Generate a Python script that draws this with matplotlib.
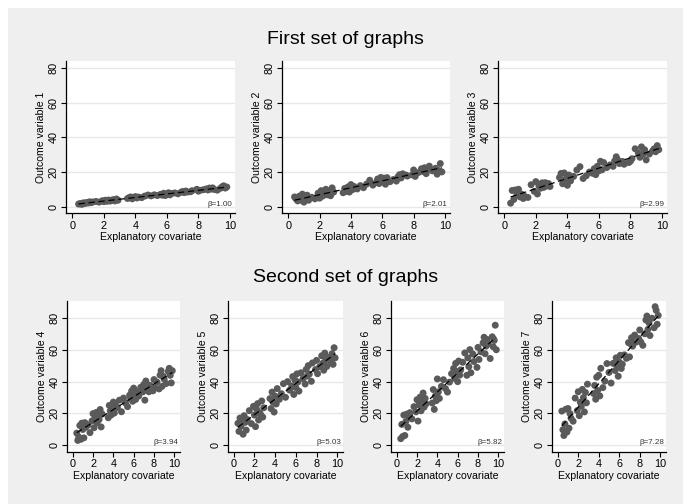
import numpy as np
import matplotlib.pyplot as plt
from matplotlib.patches import Rectangle

plt.rcParams["font.family"] = ["Liberation Sans", "DejaVu Sans"]

# shared explanatory covariate
x = [0.4, 0.5, 0.6, 0.7, 0.8, 0.9, 1.0, 1.1, 1.2, 1.3, 1.5, 1.7, 1.9, 2.0, 2.1, 2.2,
     2.3, 2.4, 2.5, 2.6, 2.7, 2.8, 2.9, 3.5, 3.6, 3.7, 3.8, 3.9, 4.0, 4.1, 4.2, 4.4,
     4.6, 4.8, 5.0, 5.2, 5.4, 5.6, 5.7, 5.8, 5.9, 6.0, 6.1, 6.2, 6.3, 6.5, 6.7, 6.9,
     7.0, 7.1, 7.2, 7.3, 7.5, 7.6, 7.9, 8.0, 8.1, 8.3, 8.5, 8.6, 8.7, 8.8, 8.9, 9.0,
     9.2, 9.4, 9.5, 9.6, 9.7, 9.8]

y1 = [1.7, 2.0, 1.5, 2.4, 2.0, 2.6, 2.3, 3.0, 2.5, 2.9, 3.2, 2.8, 3.6, 3.1, 3.9, 3.3,
      4.0, 3.4, 3.9, 4.2, 3.5, 4.6, 3.9, 4.9, 5.4, 5.8, 4.7, 5.5, 6.0, 5.2, 5.7, 5.4,
      6.3, 6.9, 6.4, 7.0, 6.6, 7.3, 6.8, 7.9, 6.6, 7.4, 8.2, 7.0, 7.8, 8.1, 7.6, 8.5,
      8.9, 8.3, 9.2, 8.6, 8.8, 9.4, 10.2, 9.1, 9.6, 9.9, 10.4, 9.8, 10.9, 10.3, 11.0, 10.1,
      9.7, 10.8, 11.6, 12.2, 10.9, 11.5]

y2 = [5.8, 4.6, 3.5, 6.2, 4.0, 7.4, 2.8, 5.2, 6.8, 3.9, 5.6, 4.7, 7.9, 5.1, 9.4, 6.3,
      8.5, 10.2, 7.0, 9.1, 6.5, 11.0, 8.6, 8.2, 10.7, 9.0, 11.5, 8.6, 12.9, 10.0, 11.8, 10.4,
      12.3, 11.1, 13.2, 15.4, 12.6, 14.0, 16.1, 13.5, 17.0, 15.2, 16.6, 13.1, 16.9, 14.6, 15.8, 14.9,
      17.4, 18.6, 16.7, 19.1, 18.4, 17.8, 18.5, 21.3, 17.6, 19.8, 22.0, 20.4, 22.6, 19.2, 21.5, 23.5,
      20.8, 22.3, 18.9, 21.0, 25.0, 20.2]

y3 = [2.2, 9.5, 4.3, 9.8, 7.0, 10.2, 5.8, 7.4, 4.9, 6.1, 5.5, 12.8, 9.0, 14.6, 7.5, 12.0,
      10.8, 13.9, 11.3, 14.0, 12.1, 13.5, 11.8, 17.0, 19.3, 13.4, 19.6, 16.1, 12.5, 18.4, 15.0, 17.6,
      21.3, 23.2, 16.4, 18.0, 20.1, 19.4, 22.0, 18.6, 23.4, 20.8, 26.3, 21.4, 25.6, 22.7, 24.2, 23.4,
      26.5, 28.9, 27.1, 25.0, 26.2, 24.6, 25.6, 26.4, 27.8, 33.5, 31.2, 28.6, 34.6, 30.4, 32.9, 27.1,
      30.5, 32.2, 33.4, 31.8, 35.3, 33.0]

y4 = [7.5, 2.9, 5.0, 12.3, 3.6, 13.8, 9.8, 4.5, 14.1, 11.2, 12.6, 7.8, 15.2, 19.8, 10.9, 17.3,
      20.5, 14.0, 18.6, 16.1, 22.4, 11.4, 19.5, 17.2, 25.0, 21.6, 19.0, 24.2, 27.1, 20.2, 25.8, 23.7,
      28.3, 21.0, 29.6, 26.5, 24.2, 31.4, 29.2, 34.1, 27.6, 35.9, 31.6, 28.8, 33.7, 30.9, 36.4, 33.5,
      38.3, 28.3, 40.4, 35.2, 33.6, 37.7, 34.2, 41.3, 36.1, 39.7, 35.4, 44.1, 46.9, 37.0, 43.4, 41.6,
      38.8, 46.4, 48.4, 44.0, 39.2, 46.9]

y5 = [13.7, 8.6, 17.0, 11.9, 15.6, 6.8, 18.5, 14.3, 9.4, 16.1, 21.7, 13.5, 24.4, 18.9, 11.6, 22.7,
      26.1, 15.8, 20.4, 19.2, 27.8, 17.6, 23.5, 29.3, 23.0, 33.4, 27.0, 20.8, 30.8, 25.9, 35.6, 28.8,
      32.4, 38.7, 30.1, 40.0, 34.6, 37.3, 43.2, 31.9, 41.1, 36.2, 44.9, 39.8, 34.0, 45.6, 41.9, 38.5,
      47.7, 43.5, 50.1, 44.7, 40.2, 51.8, 47.6, 53.4, 45.0, 49.4, 56.3, 51.6, 47.2, 58.0, 53.8, 49.6,
      55.2, 52.5, 57.6, 50.9, 61.4, 55.0]

y6 = [4.0, 13.0, 5.4, 18.9, 6.0, 14.8, 19.5, 11.2, 17.3, 20.4, 16.5, 24.2, 20.9, 28.6, 15.1, 25.3,
      30.2, 21.6, 27.1, 32.8, 23.9, 29.4, 26.0, 26.5, 35.0, 22.5, 30.9, 28.0, 41.7, 33.5, 29.4, 37.0,
      41.2, 35.6, 33.4, 39.7, 45.0, 48.3, 42.0, 51.5, 46.4, 40.0, 53.0, 44.1, 47.4, 52.2, 58.1, 44.0,
      55.0, 49.5, 60.2, 45.6, 57.4, 52.7, 49.0, 61.6, 54.0, 58.8, 64.5, 68.0, 57.6, 62.4, 66.6, 63.8,
      54.6, 68.3, 62.0, 66.0, 75.6, 60.1]

y7 = [21.4, 9.6, 6.0, 13.3, 22.6, 8.2, 23.0, 10.6, 19.8, 16.9, 15.0, 29.6, 21.7, 33.6, 18.5, 27.0,
      24.4, 35.1, 29.9, 20.9, 33.2, 26.6, 38.4, 32.5, 37.6, 28.9, 42.8, 34.4, 44.0, 31.0, 48.4, 36.2,
      40.3, 51.4, 45.8, 39.1, 51.5, 47.0, 55.0, 49.9, 43.4, 52.3, 56.6, 48.3, 51.0, 56.9, 54.7, 64.6,
      55.6, 63.9, 67.7, 62.4, 69.4, 64.8, 67.2, 72.6, 65.0, 62.9, 70.2, 78.9, 81.4, 73.0, 77.1, 69.1,
      80.0, 74.0, 87.3, 85.0, 76.2, 81.8]

outcomes = [y1, y2, y3, y4, y5, y6, y7]
betas = ["1.00", "2.01", "2.99", "3.94", "5.03", "5.82", "7.28"]
row_titles = ["First set of graphs", "Second set of graphs"]

W, H = 683, 504
fig = plt.figure(figsize=(W / 100, H / 100), dpi=100, facecolor="white")
fig.patches.append(Rectangle((8 / W, 0), 1, 1 - 8 / H, transform=fig.transFigure,
                             facecolor="#efefef", edgecolor="none", zorder=-10))

# panel boxes in pixels: left, right, top, bottom
top_boxes = [(66, 235), (282, 450), (498, 667)]
bot_boxes = [(67, 180), (228, 343), (391, 504), (552, 666)]


def panel(i, left, right, top, bottom, ylim, xlim):
    ax = fig.add_axes([left / W, 1 - bottom / H, (right - left) / W, (bottom - top) / H])
    ax.set_facecolor("white")
    ax.scatter(x, outcomes[i], s=25, color="#5a5a5a", edgecolors="none", zorder=3)
    xa = np.array(x)
    b, a = np.polyfit(xa, outcomes[i], 1)
    xs = np.array([xa.min(), xa.max()])
    ax.plot(xs, a + b * xs, color="black", lw=0.9, ls=(0, (5, 3)), zorder=4)
    ax.set_xlim(*xlim)
    ax.set_ylim(*ylim)
    ax.set_xticks([0, 2, 4, 6, 8, 10])
    ax.set_yticks([0, 20, 40, 60, 80])
    ax.grid(axis="y", color="#e8e8e8", lw=1.0)
    ax.set_axisbelow(True)
    for s in ["top", "right"]:
        ax.spines[s].set_visible(False)
    for s in ["left", "bottom"]:
        ax.spines[s].set_linewidth(0.9)
    ax.tick_params(length=3.5, width=0.8, labelsize=7.8, pad=2)
    for lab in ax.get_yticklabels():
        lab.set_rotation(90)
        lab.set_va("center")
    ax.set_xlabel("Explanatory covariate", fontsize=7.6, labelpad=1)
    ax.set_ylabel("Outcome variable %d" % (i + 1), fontsize=7.6, labelpad=2)
    ax.text(0.985, 0.035, "\u03b2=" + betas[i], transform=ax.transAxes,
            ha="right", va="bottom", fontsize=5.8, color="#333333")


for i, (l, r) in enumerate(top_boxes):
    panel(i, l, r, 61, 213, (-3.45, 84), (-0.4, 10.32))
for j, (l, r) in enumerate(bot_boxes):
    panel(3 + j, l, r, 300.5, 451.5, (-4.1, 91.2), (-0.56, 10.56))

fig.text(0.506, 1 - 39 / H, row_titles[0], ha="center", va="center", fontsize=14)
fig.text(0.506, 1 - 277 / H, row_titles[1], ha="center", va="center", fontsize=14)

fig.savefig("out.png", dpi=100, facecolor=fig.get_facecolor())
